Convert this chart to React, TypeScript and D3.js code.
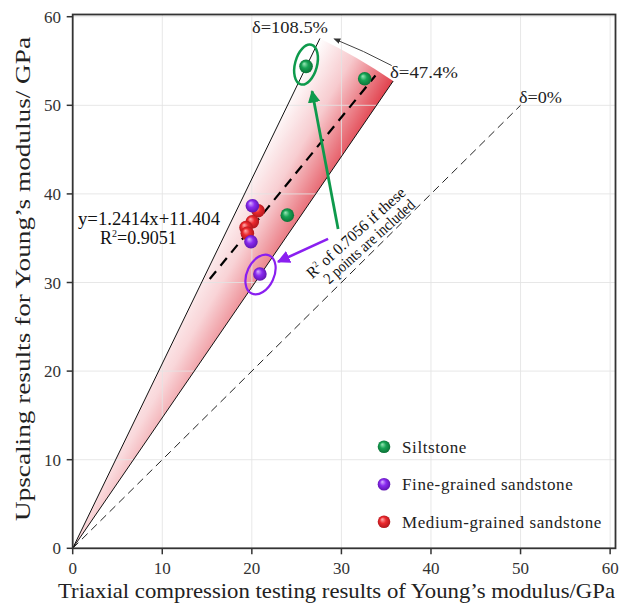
import React from "react";
import * as d3 from "d3";

const W = 629;
const H = 604;

// Data
const siltX = [26.05, 32.6, 23.96];
const siltY = [54.4, 53.0, 37.6];
const fineX = [20.06, 19.9, 20.9];
const fineY = [38.67, 34.6, 30.96];
const medX = [20.7, 20.05, 19.35, 19.5];
const medY = [38.1, 36.86, 36.2, 35.55];

const xTicks = [0, 10, 20, 30, 40, 50, 60];
const yTicks = [0, 10, 20, 30, 40, 50, 60];

const upperSlope = 2.085; // delta = 108.5%
const lowerSlope = 1.474; // delta = 47.4%
const fitSlope = 1.2414;
const fitIntercept = 11.404;
const fitRange = [15.3, 33.8];
const equalLineEnd = 50;
const fanUpperEndX = 27.6;

const legendNames = ["Siltstone", "Fine-grained sandstone", "Medium-grained sandstone"];
const legendColors = ["green", "purple", "red"];

const FONT = "'Liberation Serif', 'Times New Roman', serif";

const sphereColors: Record<string, [string, string, string]> = {
  green: ["#9be8b8", "#17a354", "#0b6b33"],
  purple: ["#d9b3ff", "#8a2bf0", "#5a12a8"],
  red: ["#ffb0b0", "#ec2a2e", "#a8141a"],
};

export default function App() {
  const x = d3.scaleLinear().domain([0, 60.6]).range([72.7, 615.5]);
  const y = d3.scaleLinear().domain([0, 60.25]).range([548.3, 14.5]);
  const x0 = x(0), y0 = y(0);

  // fan geometry (pixel space, arc centred at origin)
  const ux = x(fanUpperEndX), uy = y(fanUpperEndX * upperSlope);
  const R = Math.hypot(ux - x0, uy - y0);
  const ldx = x(1) - x0, ldy = y(lowerSlope) - y0;
  const ll = Math.hypot(ldx, ldy);
  const lx = x0 + (R * ldx) / ll, ly = y0 + (R * ldy) / ll;
  const fanPath = `M${x0},${y0} L${ux},${uy} A${R},${R} 0 0 1 ${lx},${ly} Z`;

  // curved arrow between delta lines
  const arcR = R + 12;
  const pt = (slope: number, r: number) => {
    const dx = x(1) - x0, dy = y(slope) - y0;
    const l = Math.hypot(dx, dy);
    return [x0 + (r * dx) / l, y0 + (r * dy) / l];
  };
  const [as0, as1] = pt(1.53, arcR);
  const [ae0, ae1] = pt(1.965, arcR - 6);
  const arrowArc = `M${as0},${as1} A${arcR},${arcR} 0 0 0 ${ae0},${ae1}`;

  const fitLine = d3.line<number>().x((v) => x(v)).y((v) => y(fitSlope * v + fitIntercept));

  const sphere = (cx: number, cy: number, c: string, r = 6.8, key?: string) => (
    <circle key={key} cx={cx} cy={cy} r={r} fill={`url(#sph-${c})`} />
  );

  return (
    <svg width={W} height={H} style={{ position: "absolute", left: 0, top: 0, background: "#fff" }} fontFamily={FONT}>
      <defs>
        <linearGradient id="fanGrad" gradientUnits="userSpaceOnUse" x1={ux} y1={uy} x2={lx} y2={ly}>
          <stop offset="0" stopColor="#ffffff" />
          <stop offset="0.45" stopColor="#f7c9cd" />
          <stop offset="1" stopColor="#e13f4b" />
        </linearGradient>
        <radialGradient id="fanMaskGrad" gradientUnits="userSpaceOnUse" cx={x0} cy={y0} r={R}>
          <stop offset="0" stopColor="#a0a0a0" />
          <stop offset="0.55" stopColor="#d0d0d0" />
          <stop offset="1" stopColor="#ffffff" />
        </radialGradient>
        <mask id="fanMask" maskUnits="userSpaceOnUse" x="0" y="0" width={W} height={H}>
          <rect x="0" y="0" width={W} height={H} fill="url(#fanMaskGrad)" />
        </mask>
        {Object.entries(sphereColors).map(([k, [hi, mid, lo]]) => (
          <radialGradient key={k} id={`sph-${k}`} cx="0.5" cy="0.5" r="0.55" fx="0.35" fy="0.3">
            <stop offset="0" stopColor={hi} />
            <stop offset="0.45" stopColor={mid} />
            <stop offset="1" stopColor={lo} />
          </radialGradient>
        ))}
        <marker id="arrBlack" viewBox="0 0 10 10" refX="8" refY="5" markerWidth="7" markerHeight="7" orient="auto">
          <path d="M0,1 L10,5 L0,9 Z" fill="#333" />
        </marker>
        <marker id="arrGreen" viewBox="0 0 10 10" refX="9" refY="5" markerWidth="4.5" markerHeight="4.5" orient="auto">
          <path d="M0,0 L10,5 L0,10 Z" fill="#0e9a4c" />
        </marker>
        <marker id="arrPurple" viewBox="0 0 10 10" refX="9" refY="5" markerWidth="5" markerHeight="5" orient="auto">
          <path d="M0,0 L10,5 L0,10 Z" fill="#8a1ff0" />
        </marker>
      </defs>

      {/* fan */}
      <path d={fanPath} fill="url(#fanGrad)" mask="url(#fanMask)" />

      {/* grid */}
      {xTicks.slice(1).map((t) => (
        <line key={"gx" + t} x1={x(t)} x2={x(t)} y1={y(0)} y2={y(60.25)} stroke="#e3e3e3" strokeWidth={1} opacity={0.85} />
      ))}
      {yTicks.slice(1).map((t) => (
        <line key={"gy" + t} x1={x(0)} x2={x(60.6)} y1={y(t)} y2={y(t)} stroke="#e3e3e3" strokeWidth={1} opacity={0.85} />
      ))}

      {/* delta = 0% line */}
      <line x1={x0} y1={y0} x2={x(equalLineEnd)} y2={y(equalLineEnd)} stroke="#222" strokeWidth={1} strokeDasharray="8,5" />

      {/* fan edges */}
      <line x1={x0} y1={y0} x2={ux} y2={uy} stroke="#111" strokeWidth={1} />
      <line x1={x0} y1={y0} x2={lx} y2={ly} stroke="#111" strokeWidth={1} />

      {/* regression */}
      <path d={fitLine(fitRange) || ""} stroke="#000" strokeWidth={2.2} strokeDasharray="10,7" fill="none" />

      {/* curved arrow */}
      <path d={arrowArc} fill="none" stroke="#444" strokeWidth={1} markerEnd="url(#arrBlack)" />

      {/* points */}
      {medX.map((v, i) => sphere(x(v), y(medY[i]), "red", 6.8, "m" + i))}
      {fineX.map((v, i) => sphere(x(v), y(fineY[i]), "purple", 6.8, "f" + i))}
      {siltX.map((v, i) => sphere(x(v), y(siltY[i]), "green", 6.8, "s" + i))}

      {/* ellipses */}
      <ellipse cx={x(26.05)} cy={y(54.6)} rx={11} ry={20.5} transform={`rotate(15 ${x(26.05)} ${y(54.6)})`} fill="none" stroke="#0e9a4c" strokeWidth={2.5} />
      <ellipse cx={x(20.97)} cy={y(30.9)} rx={13.5} ry={21} transform={`rotate(25 ${x(20.97)} ${y(30.9)})`} fill="none" stroke="#8a1ff0" strokeWidth={2.2} />

      {/* annotation arrows */}
      <line x1={x(29.63)} y1={y(36.04)} x2={x(26.72)} y2={y(51.6)} stroke="#0e9a4c" strokeWidth={2.8} markerEnd="url(#arrGreen)" />
      <line x1={x(28.51)} y1={y(34.93)} x2={x(22.93)} y2={y(32.34)} stroke="#8a1ff0" strokeWidth={2.6} markerEnd="url(#arrPurple)" />

      {/* frame */}
      <rect x={x(0)} y={y(60.25)} width={x(60.6) - x(0)} height={y(0) - y(60.25)} fill="none" stroke="#333" strokeWidth={1.8} />

      {/* ticks */}
      {xTicks.map((t) => (
        <g key={"xt" + t}>
          <line x1={x(t)} x2={x(t)} y1={y0} y2={y0 + 6} stroke="#333" strokeWidth={1.5} />
          <text x={x(t)} y={574} textAnchor="middle" fontSize={17} fill="#333">{t}</text>
        </g>
      ))}
      {yTicks.map((t) => (
        <g key={"yt" + t}>
          <line x1={x0 - 6} x2={x0} y1={y(t)} y2={y(t)} stroke="#333" strokeWidth={1.5} />
          <text x={61} y={y(t) + 6} textAnchor="end" fontSize={17} fill="#333">{t}</text>
        </g>
      ))}

      {/* axis titles */}
      <text x={58} y={598} fontSize={21} fill="#222" textLength={557} lengthAdjust="spacingAndGlyphs">
        Triaxial compression testing results of Young’s modulus/GPa
      </text>
      <text transform={`translate(30,521) rotate(-90)`} fontSize={21} fill="#222" textLength={484} lengthAdjust="spacingAndGlyphs">
        Upscaling results for Young’s modulus/ GPa
      </text>

      {/* delta labels */}
      <text x={252} y={33} fontSize={17} fill="#222" textLength={76} lengthAdjust="spacingAndGlyphs">δ=108.5%</text>
      <text x={390} y={78} fontSize={17} fill="#222" textLength={68} lengthAdjust="spacingAndGlyphs">δ=47.4%</text>
      <text x={519} y={103} fontSize={17} fill="#222" textLength={43} lengthAdjust="spacingAndGlyphs">δ=0%</text>

      {/* equation */}
      <text x={78} y={225} fontSize={18} fill="#111" textLength={142} lengthAdjust="spacingAndGlyphs">y=1.2414x+11.404</text>
      <text x={100} y={244} fontSize={18} fill="#111">
        R<tspan fontSize={10} dy={-7}>2</tspan><tspan dy={7}>=0.9051</tspan>
      </text>

      {/* rotated note */}
      <g transform="translate(359,237) rotate(-42)">
        <text x={-63} y={0} fontSize={16} fill="#111" textLength={127} lengthAdjust="spacingAndGlyphs">
          R<tspan fontSize={9} dy={-6}>2</tspan><tspan dy={6}> of 0.7056 if these</tspan>
        </text>
        <text x={-54} y={15.5} fontSize={16} fill="#111" textLength={117} lengthAdjust="spacingAndGlyphs">2 points are included</text>
      </g>

      {/* legend */}
      {legendNames.map((n, i) => (
        <g key={n}>
          {sphere(384, 446.7 + i * 37.5, legendColors[i], 6.3)}
          <text x={402} y={452.5 + i * 37.5} fontSize={17} fill="#222" letterSpacing={0.6}>{n}</text>
        </g>
      ))}
    </svg>
  );
}
